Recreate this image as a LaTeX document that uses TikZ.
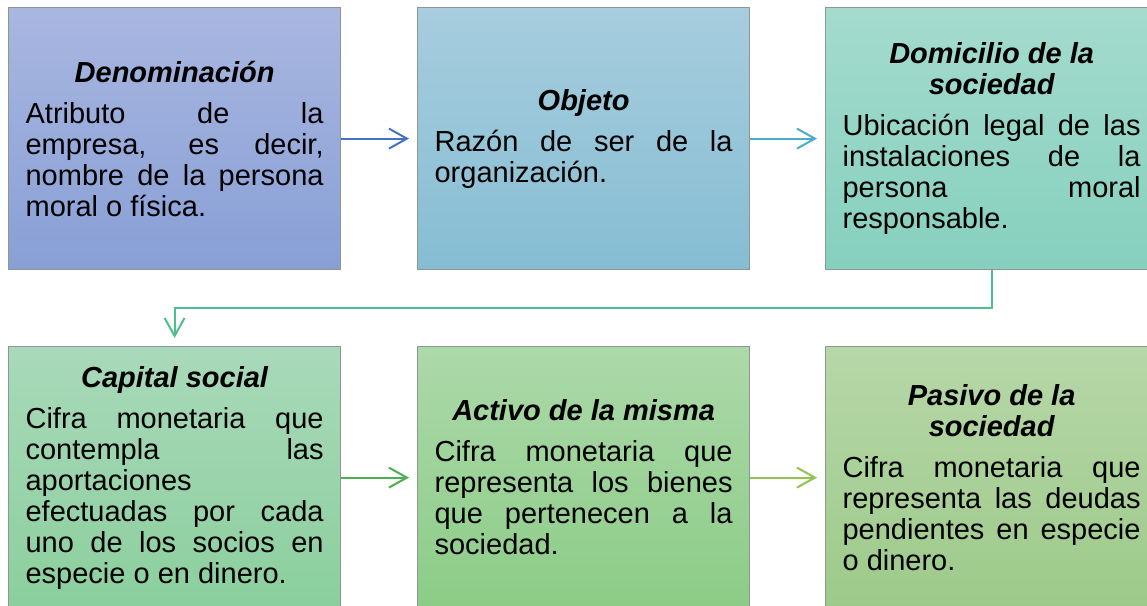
\documentclass[tikz,border=0pt]{standalone}
\usepackage{fontspec}
\setmainfont{Liberation Sans}
\usetikzlibrary{arrows.meta}
\definecolor{bAt}{HTML}{A9B7E0}\definecolor{bAb}{HTML}{889FD6}
\definecolor{bBt}{HTML}{A7CDDE}\definecolor{bBb}{HTML}{86BDD3}
\definecolor{bCt}{HTML}{A4DBCD}\definecolor{bCb}{HTML}{86D0BE}
\definecolor{bDt}{HTML}{A9D9BA}\definecolor{bDb}{HTML}{8BCF9D}
\definecolor{bEt}{HTML}{ACD9A9}\definecolor{bEb}{HTML}{8CCC87}
\definecolor{bFt}{HTML}{B7D7A8}\definecolor{bFb}{HTML}{9DCA8A}
\definecolor{arA}{HTML}{4472C4}
\definecolor{arB}{HTML}{4BACC6}
\definecolor{arC}{HTML}{4DBF8E}
\definecolor{arD}{HTML}{4DB050}
\definecolor{arE}{HTML}{8EC450}
\definecolor{edge}{HTML}{8E9690}
\newcommand\myboxtext[2]{\tolerance=10000 \hbadness=10000 \hyphenpenalty=10000 \parindent=0pt {\centering\bfseries\itshape #1\par}\vspace{10pt}#2}
\tikzset{
  infobox/.style={rectangle, anchor=north west, draw=edge, line width=1.2pt,
    minimum width=332pt, minimum height=262pt, text width=298pt,
    inner xsep=17pt, inner ysep=0pt, align=justify,
    font=\fontsize{29}{31}\selectfont},
  conn/.style={line width=2pt, -{Straight Barb[length=18pt,width=20pt,line width=2pt]}, shorten >=8pt}
}
\begin{document}
\begin{tikzpicture}[x=1pt,y=-1pt]
\useasboundingbox (0,0) rectangle (1147,605);
\clip (0,0) rectangle (1147,605);
\node[infobox, top color=bAt, bottom color=bAb] (b1) at (8,7)
  {\myboxtext{Denominación}{Atributo de la\linebreak empresa, es decir,\linebreak nombre de la persona\linebreak moral o física.}};
\node[infobox, top color=bBt, bottom color=bBb] (b2) at (417,7)
  {\myboxtext{Objeto}{Razón de ser de la\linebreak organización.}};
\node[infobox, top color=bCt, bottom color=bCb] (b3) at (825,7)
  {\myboxtext{Domicilio de la\\sociedad}{Ubicación legal de las\linebreak instalaciones de la\linebreak persona moral\linebreak responsable.}};
\node[infobox, top color=bDt, bottom color=bDb] (b4) at (8,346)
  {\myboxtext{Capital social}{Cifra monetaria que\linebreak contempla las\linebreak aportaciones\linebreak efectuadas por cada\linebreak uno de los socios en\linebreak especie o en dinero.}};
\node[infobox, top color=bEt, bottom color=bEb] (b5) at (417,346)
  {\myboxtext{Activo de la misma}{Cifra monetaria que\linebreak representa los bienes\linebreak que pertenecen a la\linebreak sociedad.}};
\node[infobox, top color=bFt, bottom color=bFb] (b6) at (825,346)
  {\myboxtext{Pasivo de la\\sociedad}{Cifra monetaria que\linebreak representa las deudas\linebreak pendientes en especie\linebreak o dinero.}};
\draw[conn, arA] (b1.east) -- (b2.west);
\draw[conn, arB] (b2.east) -- (b3.west);
\draw[conn, arC] (b3.south) -- ++(0,38) -| (b4.north);
\draw[conn, arD] (b4.east) -- (b5.west);
\draw[conn, arE] (b5.east) -- (b6.west);
\end{tikzpicture}
\end{document}
